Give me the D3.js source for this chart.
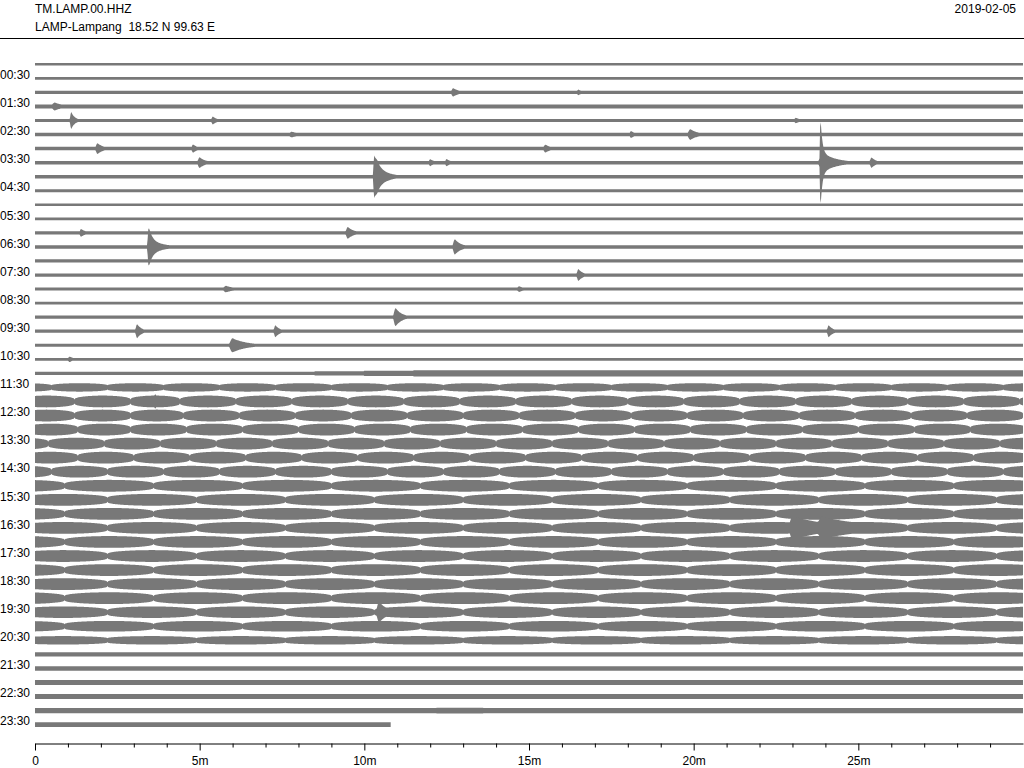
<!DOCTYPE html>
<html>
<head>
<meta charset="utf-8">
<script src="https://cdn.jsdelivr.net/npm/d3@7"></script>
<style>
  body { margin: 0; background: #fff; }
  svg { display: block; }
  text { font-family: "Liberation Sans", Arial, sans-serif; font-size: 12px; fill: #000; white-space: pre; }
</style>
</head>
<body>
<svg id="heli" width="1024" height="768"></svg>
<script>
const station = "TM.LAMP.00.HHZ";
const site = "LAMP-Lampang  18.52 N 99.63 E";
const day = "2019-02-05";

// one trace per half hour, 30 minutes long
const traceStart = d3.range(48).map(i => `${String(Math.floor(i / 2)).padStart(2, "0")}:${i % 2 ? "30" : "00"}`);
const traceLength = [30, 30, 30, 30, 30, 30, 30, 30, 30, 30, 30, 30, 30, 30, 30, 30, 30, 30, 30, 30, 30, 30, 30, 30,
  30, 30, 30, 30, 30, 30, 30, 30, 30, 30, 30, 30, 30, 30, 30, 30, 30, 30, 30, 30, 30, 30, 30, 10.8];

// background noise level of each trace (counts)
const baseNoise = [90, 95, 110, 140, 115, 125, 125, 125, 125, 115, 95, 100,
  115, 125, 115, 115, 105, 105, 115, 115, 105, 95, 115, 150,
  130, 130, 130, 130, 130, 130, 130, 130, 130, 130, 130, 130,
  130, 130, 130, 130, 130, 130, 150, 160, 175, 180, 185, 165];

// [trace, from minute, to minute, level]
const segments = [
  [22, 8.5, 10.0, 150],
  [22, 10.0, 11.5, 190],
  [22, 11.5, 30, 225],
  [46, 12.2, 13.6, 205]
];

// traces with the beating hum, positions of the envelope minima (minutes)
const beatRows = [23, 24, 25, 26, 27, 28, 29, 30, 31, 32, 33, 34, 35, 36, 37, 38, 39, 40, 41];
const beatPeak = [300, 420, 420, 420, 420, 420, 420, 420, 420, 420, 420, 420, 420, 420, 420, 420, 410, 380, 300];
const beatNodes = [
  [0.5, 2.2, 3.9, 5.6, 7.3, 9.0, 10.7, 12.4, 14.1, 15.8, 17.5, 19.2, 20.9, 22.6, 24.3, 26.0, 27.7, 29.4],
  [1.2, 2.9, 4.4, 6.1, 7.8, 9.5, 11.2, 12.9, 14.6, 16.3, 18.0, 19.7, 21.4, 23.1, 24.8, 26.5, 28.2, 29.9],
  [1.2, 2.9, 4.5, 6.2, 7.9, 9.6, 11.3, 13.0, 14.7, 16.4, 18.1, 19.8, 21.5, 23.2, 24.9, 26.6, 28.3],
  [1.3, 2.9, 4.6, 6.3, 8.0, 9.7, 11.4, 13.1, 14.8, 16.5, 18.2, 19.9, 21.6, 23.3, 25.0, 26.7, 28.4],
  [0.4, 2.1, 3.8, 5.5, 7.2, 8.9, 10.6, 12.3, 14.0, 15.7, 17.4, 19.1, 20.8, 22.5, 24.2, 25.9, 27.6, 29.3],
  [1.3, 3.0, 4.7, 6.4, 8.1, 9.8, 11.5, 13.2, 14.9, 16.6, 18.3, 20.0, 21.7, 23.4, 25.1, 26.8, 28.5],
  [0.5, 2.2, 3.9, 5.6, 7.3, 9.0, 10.7, 12.4, 14.1, 15.8, 17.5, 19.2, 20.9, 22.6, 24.3, 26.0, 27.7, 29.4],
  [0.9, 3.6, 6.3, 9.0, 11.7, 14.4, 17.1, 19.8, 22.5, 25.2, 27.9],
  [2.2, 4.9, 7.6, 10.3, 13.0, 15.7, 18.4, 21.1, 23.8, 26.5, 29.2],
  [0.9, 3.6, 6.3, 9.0, 11.7, 14.4, 17.1, 19.8, 22.5, 25.2, 27.9],
  [2.2, 4.9, 7.6, 10.3, 13.0, 15.7, 18.4, 21.1, 23.8, 26.5, 29.2],
  [0.9, 3.6, 6.3, 9.0, 11.7, 14.4, 17.1, 19.8, 22.5, 25.2, 27.9],
  [2.2, 4.9, 7.6, 10.3, 13.0, 15.7, 18.4, 21.1, 23.8, 26.5, 29.2],
  [0.9, 3.6, 6.3, 9.0, 11.7, 14.4, 17.1, 19.8, 22.5, 25.2, 27.9],
  [2.2, 4.9, 7.6, 10.3, 13.0, 15.7, 18.4, 21.1, 23.8, 26.5, 29.2],
  [0.9, 3.6, 6.3, 9.0, 11.7, 14.4, 17.1, 19.8, 22.5, 25.2, 27.9],
  [2.2, 4.9, 7.6, 10.3, 13.0, 15.7, 18.4, 21.1, 23.8, 26.5, 29.2],
  [0.9, 3.6, 6.3, 9.0, 11.7, 14.4, 17.1, 19.8, 22.5, 25.2, 27.9],
  [2.2, 4.9, 7.6, 10.3, 13.0, 15.7, 18.4, 21.1, 23.8, 26.5, 29.2]
];
const beatFloor = 140;

// [trace, onset minute, peak counts, decay minutes]
const events = [
  [2, 12.7, 300, 0.2], [2, 16.5, 200, 0.15],
  [3, 0.6, 280, 0.3],
  [4, 1.1, 600, 0.12], [4, 5.4, 280, 0.15], [4, 23.1, 200, 0.15],
  [5, 7.8, 200, 0.3], [5, 18.1, 250, 0.15], [5, 19.9, 380, 0.25],
  [6, 1.9, 380, 0.2], [6, 4.8, 300, 0.15], [6, 15.5, 280, 0.2],
  [7, 5.0, 380, 0.2], [7, 12.0, 250, 0.15], [7, 12.5, 250, 0.15],
  [7, 23.85, 2800, 0.05], [7, 23.9, 700, 0.45], [7, 25.4, 350, 0.15],
  [8, 10.3, 1350, 0.1], [8, 10.4, 650, 0.35],
  [12, 1.4, 280, 0.15], [12, 9.5, 420, 0.2],
  [13, 3.45, 1050, 0.1], [13, 3.5, 450, 0.45], [13, 12.75, 550, 0.2],
  [15, 16.5, 430, 0.15],
  [16, 5.8, 230, 0.3], [16, 14.7, 200, 0.2],
  [18, 10.95, 650, 0.2],
  [19, 3.1, 500, 0.15], [19, 7.3, 420, 0.15], [19, 24.1, 420, 0.15],
  [20, 6.0, 500, 0.45],
  [21, 1.05, 200, 0.15],
  [24, 3.65, 650, 0.04],
  [33, 23.0, 850, 1.1], [33, 23.9, 420, 1.8],
  [34, 0.1, 420, 0.25],
  [39, 10.45, 750, 0.25]
];

const majorTicks = [0, 5, 10, 15, 20, 25];
const minorTicks = d3.range(1, 30).filter(m => m % 5);

const svg = d3.select("#heli");

const x = d3.scaleLinear().domain([0, 30]).range([35, 1023]);
const y = d3.scaleLinear().domain([0, 47]).range([64.3, 724.6]);
const amp = d3.scaleLinear().domain([0, 1000]).range([0, y(1) - y(0)]);

svg.append("text").attr("x", 35).attr("y", 13).text(station);
svg.append("text").attr("x", 35).attr("y", 31).text(site);
svg.append("text").attr("x", 1016).attr("y", 13).attr("text-anchor", "end").text(day);

svg.append("line")
  .attr("x1", 0).attr("x2", 1024)
  .attr("y1", 38.5).attr("y2", 38.5)
  .attr("stroke", "#000");

const beatLevel = (bi, t) => {
  const nodes = beatNodes[bi];
  let a, b;
  const n = nodes.length;
  if (t < nodes[0]) {
    b = nodes[0];
    a = b - (nodes[1] - nodes[0]);
  } else if (t >= nodes[n - 1]) {
    a = nodes[n - 1];
    b = a + (nodes[n - 1] - nodes[n - 2]);
  } else {
    const k = d3.bisectRight(nodes, t) - 1;
    a = nodes[k];
    b = nodes[k + 1];
  }
  const s = Math.sin(Math.PI * (t - a) / (b - a));
  return beatFloor + (beatPeak[bi] - beatFloor) * Math.pow(Math.max(s, 0), 0.4);
};

const envelope = (i, t, evs, segs) => {
  let e = baseNoise[i];
  segs.forEach(s => {
    if (t >= s[1] && t <= s[2]) e = Math.max(e, s[3]);
  });
  const bi = beatRows.indexOf(i);
  if (bi >= 0) e = Math.max(e, beatLevel(bi, t));
  let ev = 0;
  evs.forEach(([, m, peak, decay]) => {
    const rise = Math.max(0.03, Math.min(decay * 0.5, 0.15));
    if (t >= m - rise && t < m) ev += peak * Math.pow(Math.sin(Math.PI / 2 * (t - (m - rise)) / rise), 2);
    else if (t >= m) ev += peak * Math.exp(-(t - m) / decay);
  });
  return Math.max(e, ev);
};

const traces = traceStart.map((label, i) => {
  const evs = events.filter(e => e[0] === i);
  const segs = segments.filter(s => s[0] === i);
  const pts = d3.range(0, traceLength[i] + 1e-9, 0.02)
    .map(t => ({ t, e: envelope(i, t, evs, segs) }));
  return { i, label, pts };
});

const area = d => d3.area()
  .x(p => x(p.t))
  .y0(p => y(d.i) - amp(p.e))
  .y1(p => y(d.i) + amp(p.e))(d.pts);

svg.append("g")
  .selectAll("path")
  .data(traces)
  .join("path")
  .attr("d", area)
  .attr("fill", "#787878");

svg.append("g")
  .selectAll("text")
  .data(traces.filter(d => d.i % 2 === 1))
  .join("text")
  .attr("x", 0)
  .attr("y", d => y(d.i) - 3.5)
  .attr("dy", "0.35em")
  .text(d => d.label);

const axisY = 743.5;

svg.append("g")
  .attr("transform", `translate(0,${axisY})`)
  .call(d3.axisBottom(x).tickValues(minorTicks).tickSize(4).tickSizeOuter(0).tickFormat(""))
  .call(g => g.select(".domain").remove());

svg.append("g")
  .attr("transform", `translate(0,${axisY})`)
  .call(d3.axisBottom(x).tickValues(majorTicks).tickSize(7).tickSizeOuter(0)
    .tickFormat(d => d === 0 ? "0" : `${d}m`))
  .call(g => g.selectAll("text")
    .attr("y", 13)
    .style("font-family", "\"Liberation Sans\", Arial, sans-serif")
    .style("font-size", "12px"));
</script>
</body>
</html>
